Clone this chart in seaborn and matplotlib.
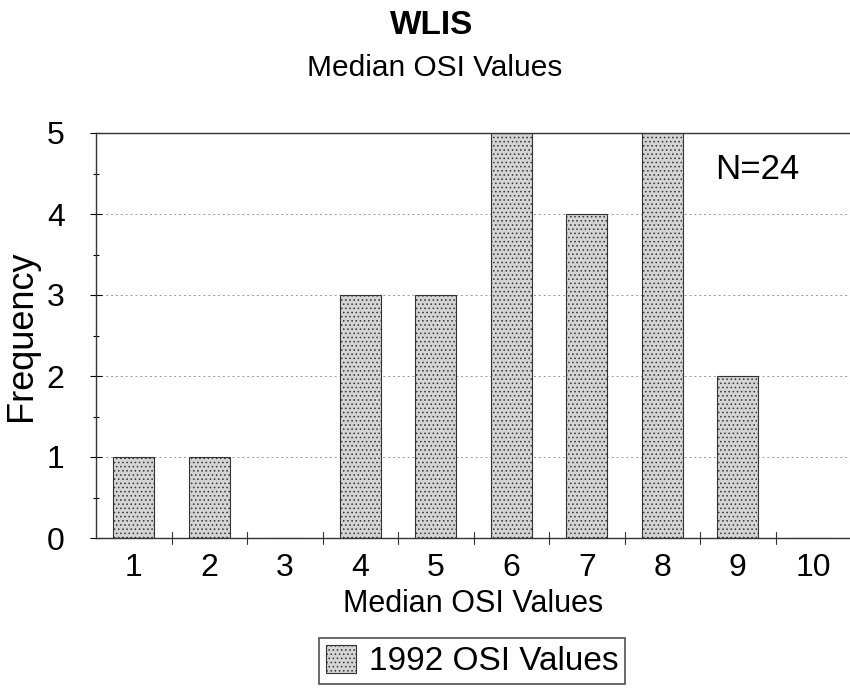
import matplotlib
matplotlib.use("Agg")
import matplotlib.pyplot as plt
import seaborn as sns
import pandas as pd
from matplotlib.patches import Patch

categories = ["1", "2", "3", "4", "5", "6", "7", "8", "9", "10"]
frequency = [1, 1, 0, 3, 3, 5, 4, 5, 2, 0]
series_name = "1992 OSI Values"

sns.set_theme(style="white")
plt.rcParams['font.family'] = ['Liberation Sans', 'DejaVu Sans']
plt.rcParams['hatch.color'] = '#555555'
plt.rcParams['hatch.linewidth'] = 0.6
plt.rcParams['text.color'] = 'black'
plt.rcParams['axes.labelcolor'] = 'black'
plt.rcParams['xtick.color'] = 'black'
plt.rcParams['ytick.color'] = 'black'

df = pd.DataFrame({"cat": categories, "freq": frequency})

fig = plt.figure(figsize=(8.5, 6.92), dpi=100)
ax = fig.add_axes([96/850, 1-538/692, (851-96)/850, (538-133)/692])

sns.barplot(data=df, x="cat", y="freq", order=categories, ax=ax,
            color="#d4d4d4", width=0.545, edgecolor="#333333", linewidth=0.8,
            saturation=1)
for p in ax.patches:
    p.set_hatch("....")

ax.set_ylim(0, 5)
ax.set_xlim(-0.5, 9.5)
ax.set_yticks([0, 1, 2, 3, 4, 5])
ax.set_yticks([0.5, 1.5, 2.5, 3.5, 4.5], minor=True)
ax.set_xticks(range(10))
ax.set_xticklabels(categories)
ax.tick_params(axis='x', which='major', length=0, labelsize=23, pad=11)
ax.tick_params(axis='y', which='major', direction='inout', length=9, width=0.8,
               labelsize=23, left=True, pad=18)
ax.tick_params(axis='y', which='minor', direction='inout', length=5, width=0.8, left=True)
# boundary ticks on x axis
for b in [0.5 + i for i in range(9)]:
    ax.plot([b, b], [-0.075, 0.075], color='#333333', lw=0.8, clip_on=False, zorder=5)

for y in [1, 2, 3, 4]:
    ax.axhline(y, color='#999999', lw=0.7, ls=(0, (2, 3)), zorder=0)

for s in ['left', 'bottom', 'top']:
    ax.spines[s].set_color('#333333')
    ax.spines[s].set_linewidth(1.0)
ax.spines['right'].set_visible(False)

ax.set_ylabel("Frequency", fontsize=26, labelpad=6)
ax.set_xlabel("Median OSI Values", fontsize=22, labelpad=4)

ax.text(7.7, 4.55, "N=24", fontsize=25, ha='left', va='center')

fig.text(432/850, 1-26/692, "WLIS", fontsize=24, fontweight='bold', ha='center', va='center')
fig.text(435/850, 1-68/692, "Median OSI Values", fontsize=21.5, ha='center', va='center')

handle = Patch(facecolor="#d4d4d4", edgecolor="#333333", hatch="....", linewidth=0.8)
leg = fig.legend([handle], [series_name], loc='center', bbox_to_anchor=(472/850, 1-661/692),
                 fontsize=24, frameon=True, fancybox=False, edgecolor='#222222',
                 handlelength=0.9, handleheight=0.9, handletextpad=0.4, borderpad=0.2,
                 borderaxespad=0)
leg.get_frame().set_linewidth(1.2)

fig.savefig("out.png", dpi=100)
